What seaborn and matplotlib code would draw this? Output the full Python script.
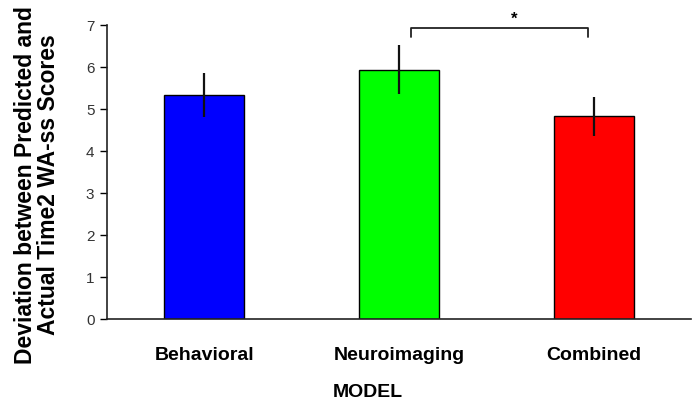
import numpy as np
import pandas as pd
import matplotlib
matplotlib.use("Agg")
import matplotlib.pyplot as plt
import seaborn as sns

models = ["Behavioral", "Neuroimaging", "Combined"]
deviation = [5.33, 5.94, 4.83]
sem = [0.52, 0.58, 0.46]
bar_colors = ["#0000FF", "#00FF00", "#FF0000"]

df = pd.DataFrame({"model": models, "deviation": deviation})

sns.set_style("white")
plt.rcParams["font.family"] = ["Liberation Sans", "DejaVu Sans"]
plt.rcParams["text.color"] = "black"
plt.rcParams["axes.labelcolor"] = "black"
plt.rcParams["xtick.color"] = "black"
plt.rcParams["ytick.color"] = "black"

fig = plt.figure(figsize=(6.99, 4.07), dpi=100)
ax = fig.add_axes([0.153, 0.216, 0.8356, 0.7224])

sns.barplot(data=df, x="model", y="deviation", hue="model", palette=bar_colors,
            saturation=1, width=0.41, edgecolor="black", linewidth=1,
            errorbar=None, legend=False, ax=ax)
ax.errorbar(np.arange(len(models)), deviation, yerr=sem, fmt="none",
            ecolor="#111111", elinewidth=1.6, capsize=0)

# significance bracket Neuroimaging vs Combined
ax.plot([1.06, 1.06, 1.97, 1.97], [6.71, 6.93, 6.93, 6.71], color="#222222",
        lw=1.3, clip_on=False)
ax.text(1.59, 6.95, "*", ha="center", va="bottom", fontsize=12,
        fontweight="bold", clip_on=False)

ax.set_xlim(-0.5, 2.5)
ax.set_ylim(0, 7)
ax.set_yticks(range(0, 8))
ax.tick_params(axis="y", direction="out", length=5, width=1, labelsize=11,
               labelcolor="#333333", pad=4, left=True)
ax.tick_params(axis="x", length=0, labelsize=14, pad=20)
for lbl in ax.get_xticklabels():
    lbl.set_fontweight("bold")

sns.despine(ax=ax)
for s in ["left", "bottom"]:
    ax.spines[s].set_color("#222222")
    ax.spines[s].set_linewidth(1.2)

ax.set_xlabel("MODEL", fontsize=14, fontweight="bold")
ax.xaxis.set_label_coords(0.447, -0.22)
ax.set_ylabel("Deviation between Predicted and\nActual Time2 WA-ss Scores",
              fontsize=16.5, fontweight="bold", linespacing=1.0)
ax.yaxis.set_label_coords(-0.08, 0.456)

fig.savefig("out.png", dpi=100)
